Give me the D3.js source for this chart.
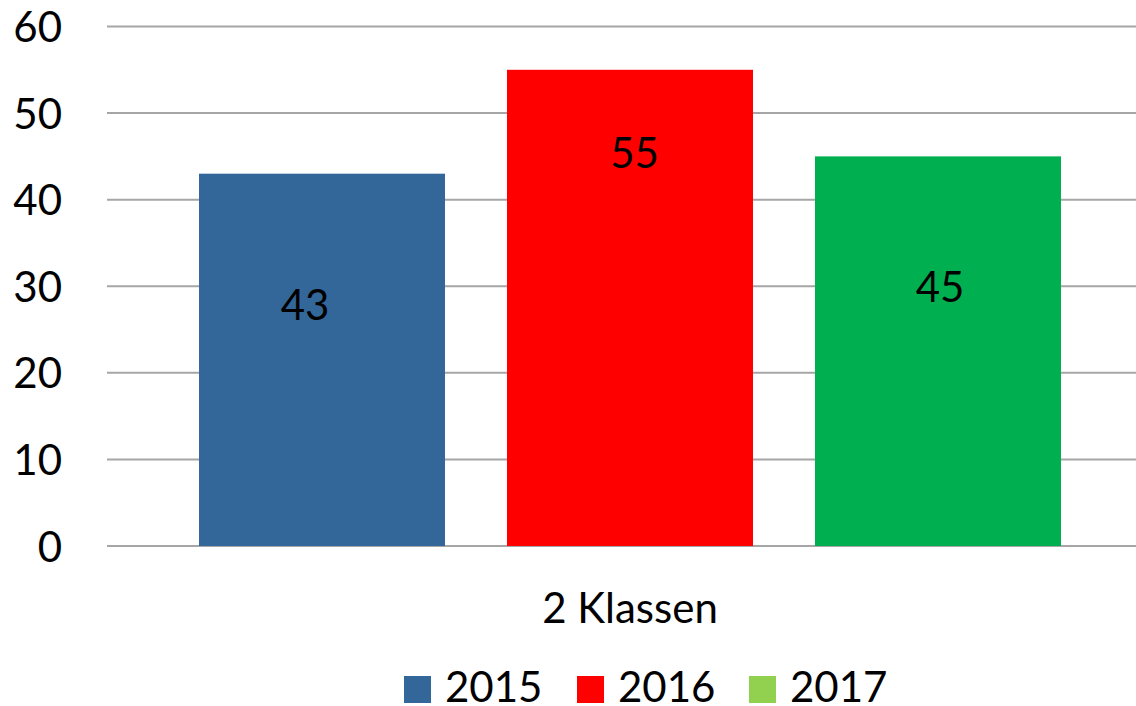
<!DOCTYPE html>
<html>
<head>
<meta charset="utf-8">
<script src="https://cdn.jsdelivr.net/npm/d3@7"></script>
<style>
  html, body { margin: 0; padding: 0; background: #fff; }
  svg { display: block; }
  text { font-family: Lato, "Open Sans", "Liberation Sans", sans-serif; fill: #000; }
</style>
</head>
<body>
<svg id="chart" width="1136" height="706"></svg>
<script>
// ---- data ----
const categories = ["2 Klassen"];
const seriesNames = ["2015", "2016", "2017"];
const values2015 = [43];
const values2016 = [55];
const values2017 = [45];
const yTicks = [0, 10, 20, 30, 40, 50, 60];

const seriesValues = [values2015, values2016, values2017];
const barColors = ["#336699", "#FF0000", "#00B050"];
const legendColors = ["#336699", "#FF0000", "#92D050"];

// ---- layout ----
const svg = d3.select("#chart");
const plotLeft = 107, plotRight = 1153, plotTop = 26.5, plotBottom = 546;
const fontSize = 42;

const y = d3.scaleLinear().domain([0, 60]).range([plotBottom, plotTop]);
const xCat = d3.scaleBand().domain(categories).range([plotLeft, plotRight]);
const xSer = d3.scaleBand().domain(seriesNames)
  .range([0, xCat.bandwidth()])
  .paddingInner(0.2013).paddingOuter(0.2987);

// gridlines
svg.append("g").selectAll("line").data(yTicks).join("line")
  .attr("x1", plotLeft).attr("x2", plotRight)
  .attr("y1", d => y(d)).attr("y2", d => y(d))
  .attr("stroke", "#A6A6A6").attr("stroke-width", 2);

// y axis labels
const yAxis = d3.axisLeft(y).tickValues(yTicks).tickSize(0).tickPadding(0);
const gy = svg.append("g").attr("transform", "translate(62,0)").call(yAxis);
gy.select(".domain").remove();
gy.selectAll("text")
  .attr("font-size", fontSize)
  .style("font-family", "Lato, 'Open Sans', sans-serif")
  .attr("fill", "#000")
  .attr("dy", "0.36em");

// bars
const barData = [];
categories.forEach((c, ci) => {
  seriesNames.forEach((s, si) => {
    barData.push({ cat: c, ser: s, si, value: seriesValues[si][ci] });
  });
});

svg.append("g").selectAll("rect").data(barData).join("rect")
  .attr("x", d => xCat(d.cat) + xSer(d.ser))
  .attr("width", xSer.bandwidth())
  .attr("y", d => y(d.value))
  .attr("height", d => y(0) - y(d.value))
  .attr("fill", d => barColors[d.si]);

// data labels (manually placed in the original, nudged relative to bar top/center)
const labelNudge = { "2015": [-17, 131.5], "2016": [4.5, 83], "2017": [2, 131] };
svg.append("g").selectAll("text").data(barData).join("text")
  .attr("x", d => xCat(d.cat) + xSer(d.ser) + xSer.bandwidth() / 2 + labelNudge[d.ser][0])
  .attr("y", d => y(d.value) + labelNudge[d.ser][1])
  .attr("dy", "0.36em")
  .attr("text-anchor", "middle")
  .attr("font-size", fontSize)
  .text(d => d.value);

// category axis label
svg.append("g").selectAll("text").data(categories).join("text")
  .attr("x", d => xCat(d) + xCat.bandwidth() / 2)
  .attr("y", 623)
  .attr("text-anchor", "middle")
  .attr("font-size", fontSize)
  .text(d => d);

// legend
const legendX = [404, 577, 749];
const legend = svg.append("g").selectAll("g").data(seriesNames).join("g")
  .attr("transform", (d, i) => `translate(${legendX[i]},676)`);
legend.append("rect").attr("width", 27).attr("height", 27)
  .attr("fill", (d, i) => legendColors[i]);
legend.append("text").attr("x", 41).attr("y", 26)
  .attr("font-size", fontSize).text(d => d);
</script>
</body>
</html>
